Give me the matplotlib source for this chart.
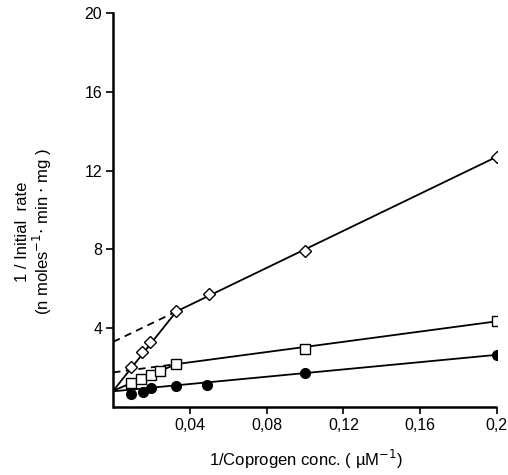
"""Lineweaver-Burk plot: 1/initial rate vs 1/coprogen concentration."""
import matplotlib
matplotlib.use("Agg")
import matplotlib.pyplot as plt

plt.rcParams["font.family"] = ["Liberation Sans", "DejaVu Sans"]

diamond_x = [0.0094, 0.0150, 0.0193, 0.0329, 0.050, 0.100, 0.200]
diamond_y = [2.05, 2.77, 3.31, 4.85, 5.72, 7.90, 12.70]
square_x = [0.0091, 0.0146, 0.0195, 0.0242, 0.0329, 0.100, 0.200]
square_y = [1.20, 1.42, 1.64, 1.84, 2.18, 2.97, 4.35]
circle_x = [0.0094, 0.0155, 0.0195, 0.0329, 0.049, 0.100, 0.200]
circle_y = [0.64, 0.79, 0.96, 1.05, 1.13, 1.72, 2.65]

# hand-drawn fit lines (x, y end points)
diamond_steep = ([0.0, 0.0329], [0.83, 4.85])
diamond_flat = ([0.0329, 0.200], [4.85, 12.70])
diamond_dash = ([0.0, 0.0329], [3.31, 4.85])
square_steep = ([0.0, 0.0329], [0.83, 2.18])
square_flat = ([0.0329, 0.200], [2.18, 4.35])
square_dash = ([0.0, 0.0329], [1.76, 2.18])
circle_line = ([0.0, 0.200], [0.80, 2.65])

x_ticks = [0.04, 0.08, 0.12, 0.16, 0.2]
x_ticklabels = ["0,04", "0,08", "0,12", "0,16", "0,2"]
y_ticks = [4, 8, 12, 16, 20]


def main():
    fig = plt.figure(figsize=(5.08, 4.75), dpi=100)
    ax = fig.add_axes([0.223, 0.143, 0.755, 0.830])

    solid = dict(color="black", lw=1.3, zorder=2)
    dashed = dict(color="black", lw=1.3, ls=(0, (4, 3)), zorder=2)
    for seg in (diamond_steep, diamond_flat, square_steep, square_flat, circle_line):
        ax.plot(*seg, **solid)
    for seg in (diamond_dash, square_dash):
        ax.plot(*seg, **dashed)

    ax.plot(diamond_x, diamond_y, ls="none", marker="D", ms=6.5, mfc="white",
            mec="black", mew=1.0, zorder=3)
    ax.plot(square_x, square_y, ls="none", marker="s", ms=7.5, mfc="white",
            mec="black", mew=1.0, zorder=3)
    ax.plot(circle_x, circle_y, ls="none", marker="o", ms=7, mfc="black",
            mec="black", zorder=3)

    ax.set_xlim(0, 0.2)
    ax.set_ylim(0, 20)
    ax.set_xticks(x_ticks)
    ax.set_xticklabels(x_ticklabels)
    ax.set_yticks(y_ticks)
    ax.tick_params(direction="out", length=5, width=1.2, labelsize=11.5, pad=3)
    for side in ("top", "right"):
        ax.spines[side].set_visible(False)
    for side in ("left", "bottom"):
        ax.spines[side].set_linewidth(1.8)
    ax.spines["bottom"].set_capstyle("butt")

    fig.text(0.068, 0.512, "1 / Initial  rate\n(n moles$^{-1}$$\\cdot$ min $\\cdot$ mg )",
             rotation=90, ha="center", va="center", multialignment="center",
             fontsize=12, linespacing=1.05)
    fig.text(0.603, 0.032, "1/Coprogen conc. ( \u00b5M$^{-1}$)", ha="center",
             va="center", fontsize=12)

    fig.savefig("out.png", dpi=100)
    plt.close(fig)


if __name__ == "__main__":
    main()
